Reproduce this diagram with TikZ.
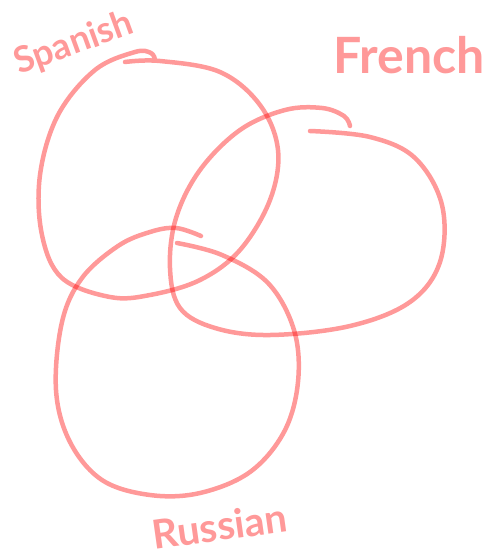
\documentclass[tikz,border=0pt]{standalone}
\usepackage{fontspec}
\setmainfont{Lato}
\begin{document}
\begin{tikzpicture}[x=1pt,y=-1pt,
  loop/.style={draw=red,draw opacity=0.4,line width=4.5pt,line cap=round,line join=round},
  lbl/.style={text=red,text opacity=0.4,inner sep=0pt}]
\useasboundingbox (0,0) rectangle (484,558);
% Spanish
\draw[loop] plot[smooth,tension=0.6] coordinates {(125,62) (160,61) (220,72) (260,105) (278,150) (270,200) (240,250) (200,280) (150,295) (110,297) (62,278) (42,235) (40,175) (58,115) (95,70) (135,52) (151,53) (155,60)};
% French
\draw[loop] plot[smooth,tension=0.6] coordinates {(310,131) (370,137) (415,158) (442,205) (440,262) (410,302) (350,326) (270,335) (215,328) (180,308) (170,268) (176,218) (200,170) (240,130) (285,110) (322,108) (344,116) (350,126)};
% Russian
\draw[loop] plot[smooth,tension=0.6] coordinates {(177,243) (222,255) (268,283) (294,330) (298,382) (284,432) (250,472) (200,493) (150,495) (102,480) (70,442) (56,390) (62,322) (82,278) (118,246) (150,232) (176,228) (201,236)};
\node[lbl,font=\bfseries\fontsize{36}{36}\selectfont,rotate=20] (sp) at (74,44) {Spanish};
\node[lbl,font=\bfseries\fontsize{50}{50}\selectfont] (fr) at (409,55) {French};
\node[lbl,font=\bfseries\fontsize{40}{40}\selectfont,rotate=8] (ru) at (220,526) {Russian};
\end{tikzpicture}
\end{document}
